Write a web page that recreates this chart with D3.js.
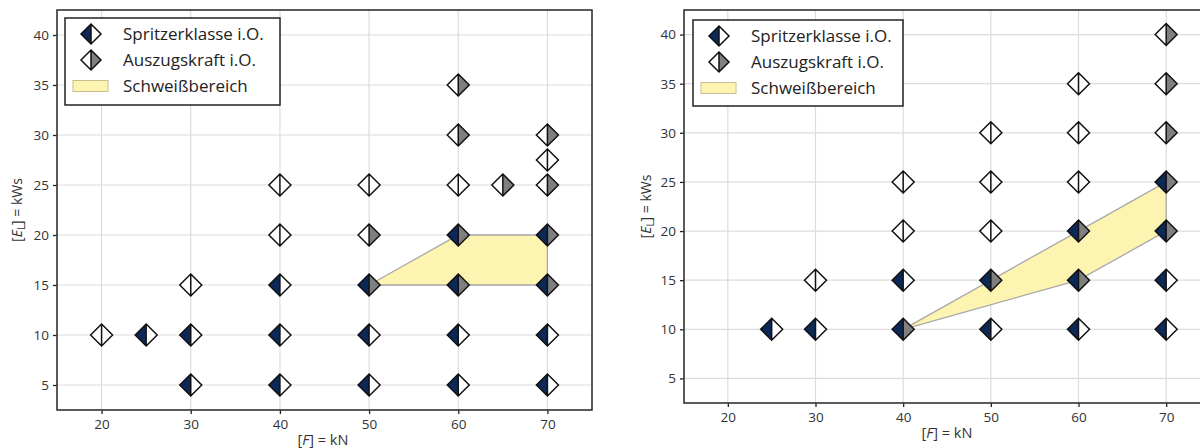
<!DOCTYPE html>
<html><head><meta charset="utf-8">
<script src="https://cdn.jsdelivr.net/npm/d3@7"></script>
<style>
html,body{margin:0;padding:0;background:#fff;}
svg{display:block;font-family:"Open Sans","Noto Sans",sans-serif;}
</style></head>
<body>
<svg id="chart" width="1200" height="448"></svg>
<script>
// ---------- DATA ----------
const xTicks = [20, 30, 40, 50, 60, 70];
const yTicks = [5, 10, 15, 20, 25, 30, 35, 40];
const legendLabels = ["Spritzerklasse i.O.", "Auszugskraft i.O.", "Schweißbereich"];

// left panel points: force F (kN), energy E (kWs), Spritzerklasse ok (1/0), Auszugskraft ok (1/0)
const leftF        = [20, 25, 30, 30, 30, 40, 40, 40, 40, 40, 50, 50, 50, 50, 50, 60, 60, 60, 60, 60, 60, 60, 65, 70, 70,   70, 70, 70, 70, 70];
const leftE        = [10, 10, 15, 10,  5, 25, 20, 15, 10,  5, 25, 20, 15, 10,  5, 35, 30, 25, 20, 15, 10,  5, 25, 30, 27.5, 25, 20, 15, 10,  5];
const leftSpritzer = [ 0,  1,  0,  1,  1,  0,  0,  1,  1,  1,  0,  0,  1,  1,  1,  0,  0,  0,  1,  1,  1,  1,  0,  0,  0,    0,  1,  1,  1,  1];
const leftAuszug   = [ 0,  0,  0,  0,  0,  0,  0,  0,  0,  0,  0,  1,  1,  0,  0,  1,  1,  0,  1,  1,  0,  0,  1,  1,  0,    1,  1,  1,  0,  0];
const leftRegionF  = [50, 60, 70, 70, 60];
const leftRegionE  = [15, 20, 20, 15, 15];

// right panel points
const rightF        = [25, 30, 30, 40, 40, 40, 40, 50, 50, 50, 50, 50, 60, 60, 60, 60, 60, 60, 70, 70, 70, 70, 70, 70, 70];
const rightE        = [10, 15, 10, 25, 20, 15, 10, 30, 25, 20, 15, 10, 35, 30, 25, 20, 15, 10, 40, 35, 30, 25, 20, 15, 10];
const rightSpritzer = [ 1,  0,  1,  0,  0,  1,  1,  0,  0,  0,  1,  1,  0,  0,  0,  1,  1,  1,  0,  0,  0,  1,  1,  1,  1];
const rightAuszug   = [ 0,  0,  0,  0,  0,  0,  1,  0,  0,  0,  1,  0,  0,  0,  0,  1,  1,  0,  1,  1,  1,  1,  1,  0,  0];
const rightRegionF  = [40, 60, 70, 70, 60];
const rightRegionE  = [10, 20, 25, 20, 15];

// ---------- STYLE ----------
const NAVY = "#0b2856", GREY = "#7f7f7f", REGION = "#fef4b2";
const svg = d3.select("#chart");

function drawMarker(g, x, y, sOk, aOk, r) {
  const m = g.append("g").attr("transform", `translate(${x},${y})`);
  m.append("path").attr("d", `M0,${-r}L${-r},0L0,${r}Z`).attr("fill", sOk ? NAVY : "#fff");
  m.append("path").attr("d", `M0,${-r}L${r},0L0,${r}Z`).attr("fill", aOk ? GREY : "#fff");
  m.append("path").attr("d", `M0,${-r}L${r},0L0,${r}L${-r},0Z M0,${-r}L0,${r}`)
    .attr("fill", "none").attr("stroke", "#111").attr("stroke-width", 1.5).attr("stroke-linejoin", "miter");
}

function drawPanel(p) {
  const x = d3.scaleLinear().domain([15, 75]).range([p.x0, p.x1]);
  const y = d3.scaleLinear().domain([2.5, 42.5]).range([p.y1, p.y0]);
  const g = svg.append("g");
  const clipId = "clip" + p.id;
  svg.append("clipPath").attr("id", clipId).append("rect")
    .attr("x", p.x0).attr("y", p.y0).attr("width", p.x1 - p.x0).attr("height", p.y1 - p.y0);
  const inner = g.append("g").attr("clip-path", `url(#${clipId})`);

  // grid
  inner.selectAll(".gx").data(xTicks).join("line")
    .attr("x1", d => x(d)).attr("x2", d => x(d)).attr("y1", p.y0).attr("y2", p.y1)
    .attr("stroke", "#dcdcdc").attr("stroke-width", 1.2);
  inner.selectAll(".gy").data(yTicks).join("line")
    .attr("y1", d => y(d)).attr("y2", d => y(d)).attr("x1", p.x0).attr("x2", p.x1)
    .attr("stroke", "#dcdcdc").attr("stroke-width", 1.2);

  // region
  const pts = p.regionF.map((f, i) => [x(f), y(p.regionE[i])]);
  inner.append("path").attr("d", d3.line()(pts) + "Z")
    .attr("fill", REGION).attr("stroke", "#a8a8a8").attr("stroke-width", 1.3);

  // markers
  p.F.forEach((f, i) => drawMarker(inner, x(f), y(p.E[i]), p.S[i], p.A[i], 11));

  // axes
  const xAxis = d3.axisBottom(x).tickValues(xTicks).tickSize(4).tickPadding(5);
  const yAxis = d3.axisLeft(y).tickValues(yTicks).tickSize(4).tickPadding(4);
  const gx = g.append("g").attr("transform", `translate(0,${p.y1})`).call(xAxis);
  const gy = g.append("g").attr("transform", `translate(${p.x0},0)`).call(yAxis);
  [gx, gy].forEach(a => {
    a.select(".domain").remove();
    a.selectAll("line").attr("stroke", "#222").attr("stroke-width", 1.3);
    a.selectAll("text").attr("fill", "#333").style("font-size", "13.5px")
      .style("font-family", '"Open Sans","Noto Sans",sans-serif');
  });

  // frame
  g.append("rect").attr("x", p.x0).attr("y", p.y0).attr("width", p.x1 - p.x0).attr("height", p.y1 - p.y0)
    .attr("fill", "none").attr("stroke", "#333").attr("stroke-width", 1.6);

  // axis labels
  const xl = g.append("text").attr("x", p.xLabelX).attr("y", p.y1 + 35)
    .attr("text-anchor", "middle").attr("fill", "#333").style("font-size", "14.5px");
  xl.append("tspan").text("[");
  xl.append("tspan").attr("font-style", "italic").text("F");
  xl.append("tspan").text("] = kN");

  const yl = g.append("text").attr("transform", `translate(${p.yLabelX},${(p.y0 + p.y1) / 2}) rotate(-90)`)
    .attr("text-anchor", "middle").attr("fill", "#333").style("font-size", "14px");
  yl.append("tspan").text("[");
  yl.append("tspan").attr("font-style", "italic").text("E");
  yl.append("tspan").attr("font-size", "10px").attr("dy", 3).text("L");
  yl.append("tspan").attr("dy", -3).text("] = kWs");

  // legend
  const L = p.legend;
  const lg = g.append("g");
  lg.append("rect").attr("x", L.x).attr("y", L.y).attr("width", L.w).attr("height", L.h)
    .attr("fill", "#fff").attr("stroke", "#222").attr("stroke-width", 1.5);
  const rows = [L.y + 16, L.y + 42, L.y + 68];
  drawMarker(lg, L.x + 26, rows[0], 1, 0, 10);
  drawMarker(lg, L.x + 26, rows[1], 0, 1, 10);
  lg.append("rect").attr("x", L.x + 8).attr("y", rows[2] - 5.5).attr("width", 35).attr("height", 11)
    .attr("fill", REGION).attr("stroke", "#c8bf90").attr("stroke-width", 1);
  legendLabels.forEach((t, i) => {
    lg.append("text").attr("x", L.x + 58).attr("y", rows[i]).attr("dy", "0.35em")
      .attr("fill", "#222").style("font-size", "17px").text(t);
  });
}

drawPanel({
  id: "L", x0: 57, x1: 592, y0: 10, y1: 410, xLabelX: 323, yLabelX: 22,
  F: leftF, E: leftE, S: leftSpritzer, A: leftAuszug, regionF: leftRegionF, regionE: leftRegionE,
  legend: { x: 65, y: 18, w: 215, h: 87 }
});
drawPanel({
  id: "R", x0: 684, x1: 1210, y0: 10, y1: 403, xLabelX: 947, yLabelX: 651,
  F: rightF, E: rightE, S: rightSpritzer, A: rightAuszug, regionF: rightRegionF, regionE: rightRegionE,
  legend: { x: 693, y: 20, w: 210, h: 86 }
});
</script>
</body></html>
